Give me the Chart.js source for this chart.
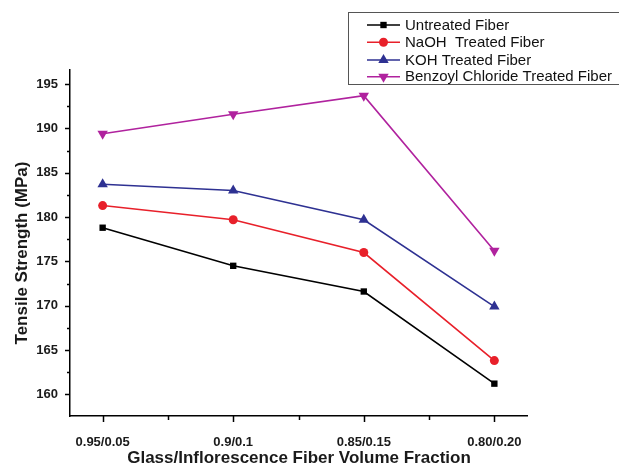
<!DOCTYPE html>
<html><head><meta charset="utf-8">
<script src="https://cdn.jsdelivr.net/npm/chart.js@4"></script>
<style>html,body{margin:0;padding:0;background:#fff}#wrap{width:619px;height:466px}</style>
</head><body><div id="wrap"><canvas id="c" width="619" height="466"></canvas></div>
<script>
const categories = ["0.95/0.05", "0.9/0.1", "0.85/0.15", "0.80/0.20"];
const untreated = [178.8, 174.5, 171.6, 161.2];
const naoh = [181.3, 179.7, 176.0, 163.8];
const koh = [183.7, 183.0, 179.7, 169.9];
const benzoyl = [189.4, 191.6, 193.7, 176.2];
const seriesNames = ["Untreated Fiber", "NaOH  Treated Fiber", "KOH Treated Fiber", "Benzoyl Chloride Treated Fiber"];
const yTickValues = [160, 165, 170, 175, 180, 185, 190, 195];

const F = '"Liberation Sans", Arial, sans-serif';
function pts(arr){ return arr.map((v,i)=>({x:i, y:v})); }
const styles = [
  {c:'#000000', s:'rect', r:4.5},
  {c:'#e8202a', s:'circle', r:4.5},
  {c:'#2e3192', s:'triangle', r:6},
  {c:'#b0229e', s:'triangle', r:6, rot:180}
];
const datasets = [untreated, naoh, koh, benzoyl].map((d,i)=>({
  label: seriesNames[i], data: pts(d), borderColor: styles[i].c, backgroundColor: styles[i].c,
  borderWidth: 1.6, pointStyle: styles[i].s, pointRadius: styles[i].r, pointRotation: styles[i].rot||0,
  pointBorderWidth: 0, tension: 0
}));

function drawMarker(ctx, st, x, y){
  Chart.helpers.drawPoint(ctx, {pointStyle: st.s, radius: st.r, rotation: st.rot||0, borderWidth: 0}, x, y);
}

const decor = {
  id: 'decor',
  afterDraw(chart){
    const ctx = chart.ctx, xs = chart.scales.x, ys = chart.scales.y, ca = chart.chartArea;
    ctx.save();
    ctx.strokeStyle = '#000'; ctx.lineWidth = 1.5;
    for (let v = 160; v <= 195.01; v += 2.5){
      const y = Math.round(ys.getPixelForValue(v)) + 0.5;
      const len = (Math.abs(v % 5) < 0.01) ? 5 : 3;
      ctx.beginPath(); ctx.moveTo(ca.left, y); ctx.lineTo(ca.left - len, y); ctx.stroke();
    }
    for (let v = 0; v <= 3.01; v += 0.5){
      const x = Math.round(xs.getPixelForValue(v)) + 0.5;
      const len = (Math.abs(v % 1) < 0.01) ? 6 : 4;
      ctx.beginPath(); ctx.moveTo(x, ca.bottom); ctx.lineTo(x, ca.bottom + len); ctx.stroke();
    }
    ctx.fillStyle = '#1a1a1a';
    ctx.font = 'bold 17px ' + F;
    ctx.textAlign = 'center'; ctx.textBaseline = 'middle';
    ctx.fillText('Glass/Inflorescence Fiber Volume Fraction', 299, 458);
    ctx.save(); ctx.translate(22, 253); ctx.rotate(-Math.PI/2);
    ctx.fillText('Tensile Strength (MPa)', 0, 0); ctx.restore();
    ctx.strokeStyle = '#555'; ctx.lineWidth = 1;
    ctx.strokeRect(348.5, 12.5, 280, 72);
    ctx.font = '15px ' + F; ctx.textAlign = 'left'; ctx.fillStyle = '#111';
    const rows = [25, 42.3, 60, 76.7];
    chart.data.datasets.forEach((ds, i) => {
      const y = rows[i];
      ctx.strokeStyle = styles[i].c; ctx.lineWidth = 1.6;
      ctx.beginPath(); ctx.moveTo(367, y); ctx.lineTo(400, y); ctx.stroke();
      ctx.fillStyle = styles[i].c;
      drawMarker(ctx, styles[i], 383.5, y);
      ctx.fillStyle = '#111';
      ctx.fillText(ds.label, 405, y + 0.5);
    });
    ctx.restore();
  }
};

new Chart(document.getElementById('c'), {
  type: 'line',
  data: { datasets },
  options: {
    responsive: false, animation: false, devicePixelRatio: 1,
    layout: { padding: { left: 0, right: 92, top: 70, bottom: 0 } },
    plugins: { legend: { display: false }, tooltip: { enabled: false } },
    scales: {
      x: {
        type: 'linear', min: -0.25, max: 3.25,
        afterBuildTicks: s => { s.ticks = [0,1,2,3].map(v => ({value: v})); },
        afterFit: s => { s.height = 50; },
        grid: { display: false, drawTicks: false },
        border: { display: true, color: '#000', width: 1.5 },
        ticks: { padding: 19, color: '#1a1a1a', font: { family: F, size: 13, weight: 'bold' },
                 callback: v => categories[v] ?? '', maxRotation: 0, autoSkip: false }
      },
      y: {
        type: 'linear', min: 157.55, max: 196.6,
        afterBuildTicks: s => { s.ticks = yTickValues.map(v => ({value: v})); },
        afterFit: s => { s.width = 70; },
        grid: { display: false, drawTicks: false },
        border: { display: true, color: '#000', width: 1.5 },
        ticks: { padding: 12, color: '#1a1a1a', font: { family: F, size: 13, weight: 'bold' } }
      }
    }
  },
  plugins: [decor]
});
</script></body></html>
